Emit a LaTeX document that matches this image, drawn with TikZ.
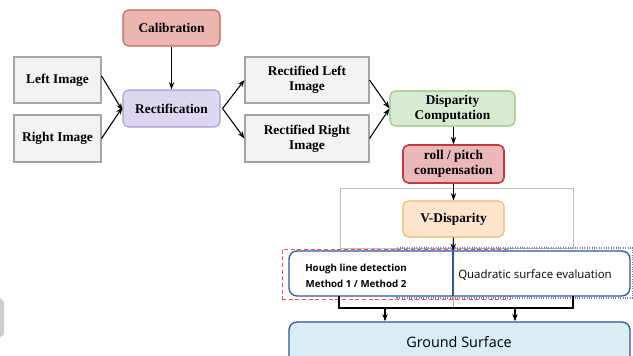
\documentclass[tikz,border=0pt]{standalone}
\usepackage{fontspec}
\setmainfont{Liberation Serif}
\newfontfamily\osans{Open Sans}
\usetikzlibrary{arrows.meta}
\definecolor{calfill}{RGB}{234,182,175}
\definecolor{calline}{RGB}{196,96,86}
\definecolor{recfill}{RGB}{221,214,240}
\definecolor{recline}{RGB}{170,155,210}
\definecolor{grfill}{RGB}{242,242,242}
\definecolor{grline}{RGB}{165,165,165}
\definecolor{dispfill}{RGB}{217,234,211}
\definecolor{displine}{RGB}{147,196,125}
\definecolor{rollfill}{RGB}{234,184,186}
\definecolor{rollline}{RGB}{192,60,60}
\definecolor{vdfill}{RGB}{252,228,205}
\definecolor{vdline}{RGB}{246,178,107}
\definecolor{bblue}{RGB}{47,85,151}
\definecolor{gfill}{RGB}{218,236,244}
\definecolor{framegray}{RGB}{190,190,190}
\definecolor{tabgray}{RGB}{205,205,205}
\begin{document}
\begin{tikzpicture}[x=0.75pt,y=-0.75pt,
  base/.style={draw, align=center, inner sep=0pt, line width=0.8pt,
    font=\bfseries\fontsize{10}{11.5}\selectfont},
  rbox/.style={base, rounded corners=4pt},
  gbox/.style={base, fill=grfill, draw=grline},
  arr/.style={-{Stealth[length=5.5pt,width=4pt]}, line width=0.8pt, black},
  ln/.style={line width=0.8pt, black}]
\path[use as bounding box] (0,0) rectangle (633,356);

% gray frame
\node[draw=framegray, line width=0.5pt, minimum width={233*0.75pt}, minimum height={60*0.75pt}] (frame) at (456.5,218) {};

% top nodes
\node[rbox, fill=calfill, draw=calline, minimum width={97*0.75pt}, minimum height={36*0.75pt}] (cal) at (171.5,28) {Calibration};
\node[gbox, minimum width={87*0.75pt}, minimum height={46*0.75pt}] (left) at (57.5,80) {Left Image};
\node[gbox, minimum width={87*0.75pt}, minimum height={47*0.75pt}] (right) at (57.5,138.5) {Right Image};
\node[rbox, fill=recfill, draw=recline, minimum width={97*0.75pt}, minimum height={37*0.75pt}] (rect) at (171.5,108.5) {Rectification};
\node[gbox, minimum width={124*0.75pt}, minimum height={46*0.75pt}] (rl) at (307,80) {Rectified Left\\Image};
\node[gbox, minimum width={124*0.75pt}, minimum height={47*0.75pt}] (rr) at (307,138.5) {Rectified Right\\Image};
\node[rbox, fill=dispfill, draw=displine, minimum width={125*0.75pt}, minimum height={35*0.75pt}] (disp) at (452.5,108.5) {Disparity\\Computation};
\node[rbox, fill=rollfill, draw=rollline, line width=1.2pt, minimum width={101*0.75pt}, minimum height={38*0.75pt}] (roll) at (453.5,164) {roll / pitch\\compensation};
\node[rbox, fill=vdfill, draw=vdline, minimum width={101*0.75pt}, minimum height={36*0.75pt}] (vd) at (453.5,219) {V-Disparity};

% dashed / dotted outlines
\node[draw=red!70, densely dashed, line width=0.5pt, minimum width={228*0.75pt}, minimum height={50*0.75pt}] (redfr) at (396,274) {};
\node[draw=bblue!70, densely dotted, line width=0.8pt, minimum width={236*0.75pt}, minimum height={50*0.75pt}] (bluefr) at (515,273) {};

% method box
\node[draw=bblue, fill=white, line width=1pt, rounded corners=6pt, minimum width={341*0.75pt}, minimum height={45*0.75pt}] (meth) at (459.5,273.5) {};
\coordinate (divt) at (453,251);
\coordinate (divb) at (453,296);
\draw[bblue, line width=1pt] (divt) -- (divb);
\node[font=\osans\bfseries\fontsize{7.3}{12}\selectfont, align=center] (hough) at (356,276) {Hough line detection\\Method 1 / Method 2};
\node[font=\osans\fontsize{8.6}{10}\selectfont] (quad) at (535,275) {Quadratic surface evaluation};

% ground
\node[draw=bblue, fill=gfill, line width=1pt, rounded corners=6pt, minimum width={341*0.75pt}, minimum height={50*0.75pt}] (ground) at (459.5,347) {};
\node[font=\osans\fontsize{10.8}{12}\selectfont] (gtext) at (459,342) {Ground Surface};

% left tab
\fill[tabgray] (0,298) -- (4,302) -- (4,334) -- (0,338) -- cycle;

% connectors
\draw[arr] (cal) -- (rect);
\draw[arr] (left.east) ++(0,-4) -- ([yshift=-1.5pt]rect.west);
\draw[arr] (right.east) -- ([yshift=1pt]rect.west);
\draw[arr] ([xshift=1.5pt]rect.east) -- (rl.west);
\draw[arr] ([xshift=1.5pt]rect.east) -- (rr.west);
\draw[arr] (rl.east) -- (disp.west);
\draw[arr] (rr.east) -- (disp.west);
\draw[arr] (disp.south -| roll.north) -- (roll.north);
\draw[arr] (roll.south) -- (vd.north);
\draw[arr] (vd.south) -- (divt);

\coordinate (b1) at (339,296);
\coordinate (b2) at (573,296);
\coordinate (h1) at (339,308);
\coordinate (h2) at (573,308);
\coordinate (g1) at (385,308);
\coordinate (g2) at (515,308);
\coordinate (gm) at (453,308);
\draw[gray!70, line width=0.7pt] (divb) -- (gm);
\draw[ln] (b1) -- (h1) -- (h2) -- (b2);
\draw[arr] (g1) -- (g1 |- ground.north);
\draw[arr] (g2) -- (g2 |- ground.north);
\end{tikzpicture}
\end{document}
